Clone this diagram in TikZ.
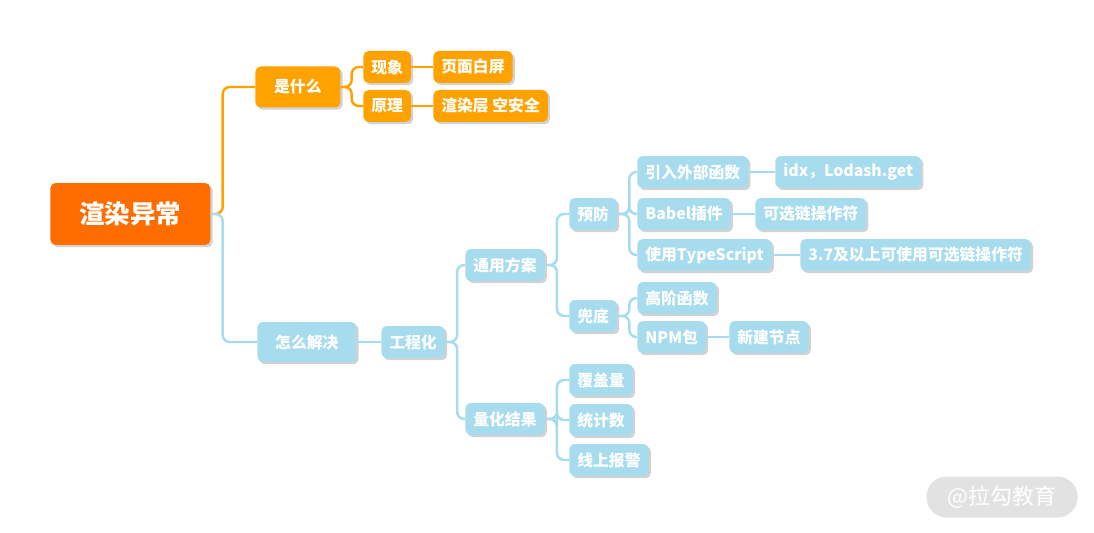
\documentclass[tikz,border=0pt]{standalone}
\usepackage{fontspec}
\setmainfont{Noto Sans CJK SC}
\usetikzlibrary{shadows}

\definecolor{rootorange}{HTML}{FF6D00}
\definecolor{warmorange}{HTML}{FFA200}
\definecolor{skyblue}{HTML}{A6DCEE}
\definecolor{markgray}{HTML}{E2E2E2}

\tikzset{
    box/.style={anchor=west, rounded corners=3pt, text=white, font=\bfseries\fontsize{9pt}{10pt}\selectfont,
        minimum height=0.64cm, inner xsep=0.16cm, inner ysep=0pt,
        drop shadow={shadow xshift=0.045cm, shadow yshift=-0.045cm, fill=black!35, opacity=0.5}},
    hot/.style={box, fill=warmorange},
    cool/.style={box, fill=skyblue},
    link/.style={line width=1.4pt, rounded corners=4pt},
}

\begin{document}
\begin{tikzpicture}[x=0.02cm, y=-0.02cm]
    \useasboundingbox (0,0) rectangle (1094,533);

    \node[box, fill=rootorange, minimum width=3.2cm, minimum height=1.24cm,
          font=\bfseries\fontsize{14.5pt}{16pt}\selectfont] (root) at (50,214) {渲染异常};

    \node[hot, minimum width=1.7cm, minimum height=0.82cm] (what) at (255,87) {是什么};
    \node[hot] (phen) at (363,67) {现象};
    \node[hot] (blank) at (433,67) {页面白屏};
    \node[hot] (princ) at (363,106) {原理};
    \node[hot] (nullsafe) at (433,106) {渲染层 空安全};

    \node[cool, minimum width=1.98cm, minimum height=0.8cm] (how) at (257,342) {怎么解决};
    \node[cool] (eng) at (381,342) {工程化};
    \node[cool] (common) at (465,265) {通用方案};
    \node[cool] (measure) at (465,419) {量化结果};
    \node[cool] (prevent) at (569,214) {预防};
    \node[cool] (fallback) at (569,316) {兜底};
    \node[cool] (extfn) at (637,172) {引入外部函数};
    \node[cool] (idx) at (775,172) {idx，Lodash.get};
    \node[cool] (babel) at (637,214) {Babel插件};
    \node[cool] (optchain) at (755,214) {可选链操作符};
    \node[cool] (ts) at (637,255) {使用TypeScript};
    \node[cool] (tsnew) at (800,255) {3.7及以上可使用可选链操作符};
    \node[cool] (hof) at (637,298) {高阶函数};
    \node[cool] (npm) at (637,337) {NPM包};
    \node[cool] (newnode) at (729,337) {新建节点};
    \node[cool] (cover) at (569,380) {覆盖量};
    \node[cool] (count) at (569,420) {统计数};
    \node[cool] (alarm) at (569,460) {线上报警};

    % orange branch
    \draw[link, warmorange] (root.east) -- ++(12,0) |- (what.west);
    \draw[link, warmorange] (what.east) -- ++(11,0) |- (phen.west);
    \draw[link, warmorange] (what.east) -- ++(11,0) |- (princ.west);
    \draw[link, warmorange] (phen) -- (blank);
    \draw[link, warmorange] (princ) -- (nullsafe);

    % blue branch
    \draw[link, skyblue] (root.east) -- ++(12,0) |- (how.west);
    \draw[link, skyblue] (how) -- (eng);
    \draw[link, skyblue] (eng.east) -- ++(12,0) |- (common.west);
    \draw[link, skyblue] (eng.east) -- ++(12,0) |- (measure.west);
    \draw[link, skyblue] (common.east) -- ++(12,0) |- (prevent.west);
    \draw[link, skyblue] (common.east) -- ++(12,0) |- (fallback.west);
    \foreach \kid in {extfn, babel, ts}
        \draw[link, skyblue] (prevent.east) -- ++(12,0) |- (\kid.west);
    \foreach \kid in {hof, npm}
        \draw[link, skyblue] (fallback.east) -- ++(12,0) |- (\kid.west);
    \foreach \kid in {cover, count, alarm}
        \draw[link, skyblue] (measure.east) -- ++(12,0) |- (\kid.west);
    \draw[link, skyblue] (extfn) -- (idx);
    \draw[link, skyblue] (babel) -- (optchain);
    \draw[link, skyblue] (ts) -- (tsnew);
    \draw[link, skyblue] (npm) -- (newnode);

    % watermark
    \node[fill=markgray, rounded corners=0.4cm, minimum width=3.02cm, minimum height=0.82cm,
          text=white, font=\fontsize{12.5pt}{14pt}\selectfont] (mark) at (1002,497) {@拉勾教育};
\end{tikzpicture}
\end{document}
